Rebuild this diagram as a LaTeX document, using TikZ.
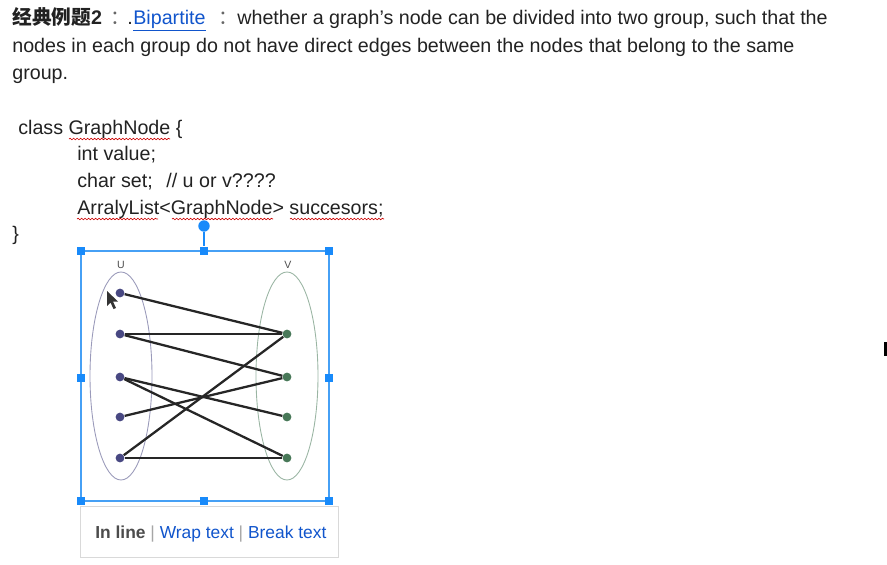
\documentclass[tikz,border=0pt]{standalone}
\usepackage{fontspec}
\setmainfont{Liberation Sans}
\newfontfamily\cjkfont{Noto Sans CJK SC}
\usetikzlibrary{shadows,decorations.pathmorphing}

\definecolor{ink}{RGB}{34,34,34}
\definecolor{linkblue}{RGB}{17,85,204}
\definecolor{handleblue}{RGB}{24,138,250}
\definecolor{framecol}{RGB}{70,160,245}
\definecolor{ucol}{RGB}{72,72,130}
\definecolor{vcol}{RGB}{72,120,88}

\begin{document}
\begin{tikzpicture}[x=0.02cm, y=-0.02cm,
  every node/.style={font=\fontsize{11.2}{13.5}\selectfont, text=ink, inner sep=0pt},
  txt/.style={anchor=base west},
  spell/.style={draw=red!80!black, line width=0.35pt, decorate,
    decoration={snake, amplitude=0.45pt, segment length=2pt}},
  handle/.style={fill=handleblue, minimum size=5pt},
  unode/.style={circle, fill=ucol, minimum size=5pt},
  vnode/.style={circle, fill=vcol, minimum size=5pt},
  edge/.style={line width=1.3pt, black!85}]
	\useasboundingbox (0,0) rectangle (887,565);
	% heading
	\node[txt] (title) at (12,24) {{\cjkfont\bfseries 经典例题}\textbf{2}};
	\node[txt, text=black!60] (col1) at (110,24) {\cjkfont ：};
	\node[txt] (dot) at (127,24) {.};
	\node[txt, text=linkblue] (link) at (133,24) {\underline{Bipartite}};
	\node[txt, text=black!60] (col2) at (218,24) {\cjkfont ：};
	\node[txt] (line1) at (237,24) {whether a graph's node can be divided into two group, such that the};
	\node[txt] (line2) at (12,52) {nodes in each group do not have direct edges between the nodes that belong to the same};
	\node[txt] (line3) at (12,79) {group.};
	% class listing
	\node[txt] (cls) at (18,134) {class GraphNode \{};
	\node[txt] (fld1) at (77,160) {int value;};
	\node[txt] (fld2) at (77,187) {char set;};
	\node[txt] (cmt) at (166,187) {// u or v????};
	\node[txt] (fld3) at (77,214) {ArralyList<GraphNode> succesors;};
	\node[txt] (close) at (12,240) {\}};
	\draw[spell] (69,139) -- (170,139);
	\draw[spell] (77,219) -- (158,219);
	\draw[spell] (172,219) -- (273,219);
	\draw[spell] (290,219) -- (384,219);
	% selected image
	\draw[framecol, line width=0.6pt] (81,251) rectangle (329,501);
	\foreach \n/\x/\y in {tl/81/251, tm/204/251, tr/329/251, ml/81/378, mr/329/378, bl/81/501, bm/204/501, br/329/501}
		\node[handle] (h\n) at (\x,\y) {};
	\node[circle, fill=handleblue, minimum size=6.5pt] (rot) at (204,226) {};
	\draw[handleblue, line width=0.8pt] (rot) -- (htm);
	% bipartite graph
	\node[font=\fontsize{6}{7}\selectfont, text=black!70] (ulab) at (121,265) {U};
	\node[font=\fontsize{6}{7}\selectfont, text=black!70] (vlab) at (288,265) {V};
	\draw[ucol!55, line width=0.5pt] (121,376) ellipse [x radius=31, y radius=104];
	\draw[vcol!55, line width=0.5pt] (287,376) ellipse [x radius=31, y radius=104];
	\foreach \i/\y in {1/293,2/334,3/377,4/417,5/458}
		\node[unode] (u\i) at (120,\y) {};
	\foreach \i/\y in {1/334,2/377,3/417,4/458}
		\node[vnode] (v\i) at (287,\y) {};
	\foreach \a/\b in {u1/v1,u2/v1,u2/v2,u3/v3,u3/v4,u4/v2,u5/v1,u5/v4}
		\draw[edge] (\a) -- (\b);
	% mouse pointer
	\fill[black!80] (107,291) -- (107,306) -- (110.5,302.5) -- (113.5,309) -- (116,308) -- (113,301.5) -- (118,301.5) -- cycle;
	% layout toolbar
	\filldraw[fill=white, draw=black!15, line width=0.4pt,
	  drop shadow={shadow xshift=0.4pt, shadow yshift=-0.8pt, opacity=0.35}] (80,506) rectangle (338,557);
	\node[txt, font=\fontsize{9.9}{12}\selectfont] (bar) at (95,538)
		{{\color{black!70}\bfseries In line} {\color{black!35}|} {\color{linkblue}Wrap text} {\color{black!35}|} {\color{linkblue}Break text}};
	% text cursor
	\fill[black] (884,342) rectangle (887,356);
\end{tikzpicture}
\end{document}
